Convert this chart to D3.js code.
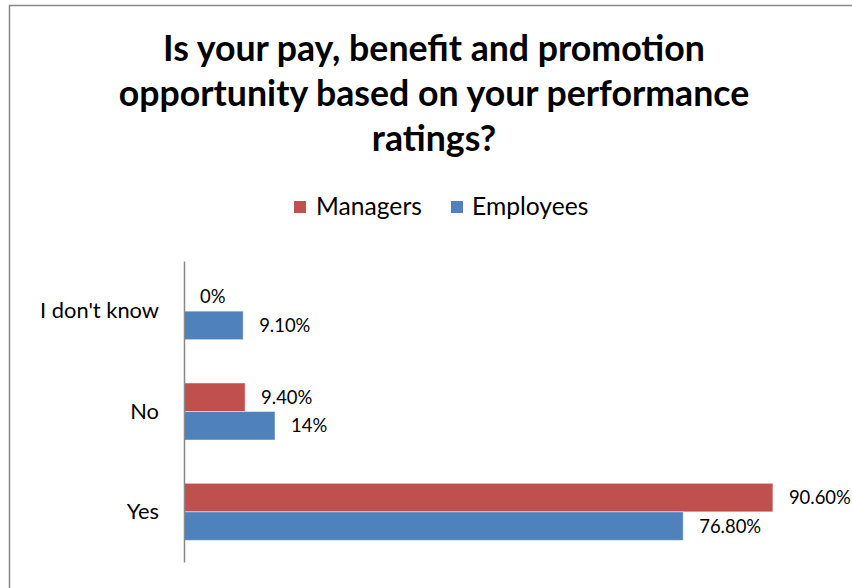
<!DOCTYPE html>
<html>
<head>
<meta charset="utf-8">
<script src="https://cdn.jsdelivr.net/npm/d3@7"></script>
<style>
  html, body { margin: 0; padding: 0; background: #fff; }
  svg { display: block; font-family: Lato, "Open Sans", sans-serif; }
</style>
</head>
<body>
<svg id="chart" width="852" height="588"></svg>
<script>
// Survey answers, listed top to bottom
const categories = ["I don't know", "No", "Yes"];
const seriesNames = ["Managers", "Employees"];
const managers = [0, 9.4, 90.6];
const employees = [9.1, 14, 76.8];
const valueLabels = {
  Managers: ["0%", "9.40%", "90.60%"],
  Employees: ["9.10%", "14%", "76.80%"]
};
const titleLines = [
  "Is your pay, benefit and promotion",
  "opportunity based on your performance",
  "ratings?"
];
const colors = { Managers: "#C0504D", Employees: "#4F81BD" };

const svg = d3.select("#chart");
const W = 852, H = 588;

// Pick a font size so that a reference string spans the wanted width
function fitSize(text, weight, width) {
  const probe = svg.append("text")
    .attr("font-size", 100).attr("font-weight", weight)
    .attr("font-family", "Lato, 'Open Sans', sans-serif")
    .text(text);
  const w = probe.node().getComputedTextLength();
  probe.remove();
  return 100 * width / w;
}
const titleSize = fitSize(titleLines[0], "bold", 542);
const legendSize = fitSize("Managers", "normal", 106);
const catSize = fitSize("I don't know", "normal", 119);
const labelSize = fitSize("90.60%", "normal", 62);

// Outer chart frame (right and bottom edges run past the canvas)
svg.append("rect")
  .attr("x", 9.5).attr("y", 5.5)
  .attr("width", W + 10).attr("height", H + 10)
  .attr("fill", "#fff")
  .attr("stroke", "#868686").attr("stroke-width", 1.5);

// Title
const title = svg.append("g");
titleLines.forEach((t, i) => {
  title.append("text")
    .attr("x", 434).attr("y", 61 + i * 45)
    .attr("text-anchor", "middle")
    .attr("font-size", titleSize).attr("font-weight", "bold")
    .attr("fill", "#000")
    .text(t);
});

// Legend
const legend = svg.append("g");
const legendItems = [
  { name: "Managers", sx: 294, tx: 316 },
  { name: "Employees", sx: 451, tx: 472 }
];
legendItems.forEach(d => {
  legend.append("rect")
    .attr("x", d.sx).attr("y", 201).attr("width", 12).attr("height", 12)
    .attr("fill", colors[d.name]);
  legend.append("text")
    .attr("x", d.tx).attr("y", 215)
    .attr("font-size", legendSize).attr("fill", "#000")
    .text(d.name);
});

// Scales
const x = d3.scaleLinear().domain([0, 100]).range([184, 834]);
const y0 = d3.scaleBand().domain(categories).range([261, 562]).paddingInner(0).paddingOuter(0);
const groupH = 57;
const y1 = d3.scaleBand().domain(seriesNames).range([0, groupH]);

const data = categories.map((c, i) => ({
  category: c,
  values: [
    { series: "Managers", value: managers[i], label: valueLabels.Managers[i] },
    { series: "Employees", value: employees[i], label: valueLabels.Employees[i] }
  ]
}));

const groups = svg.append("g").selectAll("g")
  .data(data).join("g")
  .attr("transform", d => `translate(0,${y0(d.category) + (y0.bandwidth() - groupH) / 2})`);

groups.selectAll("rect")
  .data(d => d.values).join("rect")
  .attr("x", x(0))
  .attr("y", d => y1(d.series))
  .attr("width", d => x(d.value) - x(0))
  .attr("height", y1.bandwidth())
  .attr("fill", d => colors[d.series])
  .attr("stroke", d => d.value > 0 ? "rgba(255,255,255,0.45)" : "none")
  .attr("stroke-width", 1);

groups.selectAll("text")
  .data(d => d.values).join("text")
  .attr("x", d => x(d.value) + 16)
  .attr("y", d => y1(d.series) + y1.bandwidth() / 2)
  .attr("dy", "0.35em")
  .attr("font-size", labelSize).attr("fill", "#000")
  .text(d => d.label);

// Category axis
const yAxis = d3.axisLeft(y0).tickSize(0).tickPadding(25);
const axisG = svg.append("g")
  .attr("transform", `translate(${x(0)},0)`)
  .call(yAxis);
axisG.select(".domain").attr("stroke", "#888").attr("stroke-width", 1.5);
axisG.selectAll(".tick text")
  .attr("font-family", "Lato, 'Open Sans', sans-serif")
  .attr("font-size", catSize).attr("fill", "#000");
</script>
</body>
</html>
